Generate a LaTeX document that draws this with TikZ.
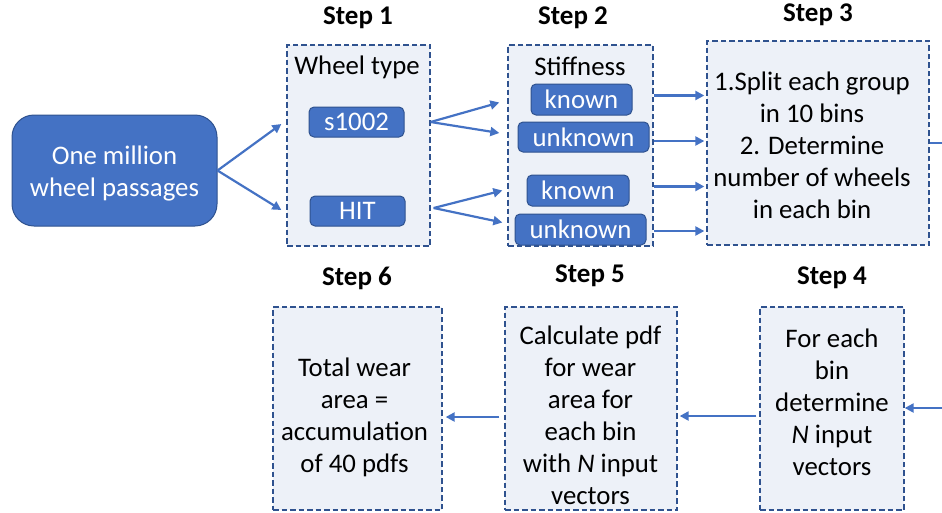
\documentclass[tikz,border=0pt]{standalone}
\usepackage{fontspec}
\setmainfont{Carlito}
\usepackage{tikz}
\usetikzlibrary{arrows.meta,positioning,calc}
\definecolor{wpblue}{RGB}{68,114,196}
\definecolor{wpdark}{RGB}{47,82,143}
\definecolor{wpbox}{RGB}{237,241,248}
\tikzstyle{arrow} = [line width=2.2pt,-{Triangle[length=9pt,width=9pt]},color=wpblue]
\tikzstyle{link} = [line width=2.2pt,color=wpblue]
\tikzstyle{stepbox} = [rectangle, draw=wpdark, dash pattern=on 5.5pt off 3pt, line width=1.3pt, fill=wpbox, inner sep=0pt]
\tikzstyle{tagnode} = [rectangle, rounded corners=5pt, draw=wpdark, line width=1pt, fill=wpblue, text=white, inner sep=0pt, text centered]
\tikzstyle{steptitle} = [font=\fontsize{27}{32}\selectfont\bfseries]

\begin{document}
\begin{tikzpicture}[x=1pt, y=-1pt, font=\fontsize{26.8}{32}\selectfont]
\useasboundingbox (0,0) rectangle (942,512);

% Input
\node[tagnode, rounded corners=22pt, minimum width=205pt, minimum height=111pt] (passages) at (114.5,170.5) {};
\node[align=center, text=white] (passagestext) at (114.5,173.5) {One million\\wheel passages};

% Step boxes, top row
\node[stepbox, minimum width=143pt, minimum height=201pt] (box1) at (358.5,145.5) {};
\node[stepbox, minimum width=145pt, minimum height=201pt] (box2) at (580.5,145.5) {};
\node[stepbox, minimum width=222pt, minimum height=204pt] (box3) at (818,143) {};

% Step boxes, bottom row
\node[stepbox, minimum width=144pt, minimum height=203pt] (box4) at (832,408.5) {};
\node[stepbox, minimum width=172pt, minimum height=203pt] (box5) at (591,408.5) {};
\node[stepbox, minimum width=169pt, minimum height=203pt] (box6) at (357.5,408.5) {};

% Titles
\node[steptitle] (title1) at (358,18) {Step 1};
\node[steptitle] (title2) at (573,18) {Step 2};
\node[steptitle] (title3) at (818,15) {Step 3};
\node[steptitle] (title4) at (832,278) {Step 4};
\node[steptitle] (title5) at (590,276) {Step 5};
\node[steptitle] (title6) at (357,278) {Step 6};

% Step 1: wheel type
\node (wheeltype) at (357,67) {Wheel type};
\node[tagnode, minimum width=95pt, minimum height=30pt] (s1002) at (356.5,122) {s1002};
\node[tagnode, minimum width=95pt, minimum height=30pt] (hit) at (357.5,211) {HIT};

% Step 2: stiffness
\node (stiffness) at (580,66) {Stiffness};
\node[tagnode, minimum width=101pt, minimum height=31pt] (known1) at (581.5,99.5) {known};
\node[tagnode, minimum width=131pt, minimum height=30pt] (unknown1) at (583.5,137) {unknown};
\node[tagnode, minimum width=102pt, minimum height=31pt] (known2) at (578,190.5) {known};
\node[tagnode, minimum width=131pt, minimum height=31pt] (unknown2) at (580.5,229.5) {unknown};

% Step texts
\node[align=center] (text3) at (812,145) {1.Split each group\\in 10 bins\\2. Determine\\number of wheels\\in each bin};
\node[align=center] (text4) at (832,402) {For each\\bin\\determine\\\textit{N} input\\vectors};
\node[align=center] (text5) at (590.5,415) {Calculate pdf\\for wear\\area for\\each bin\\with \textit{N} input\\vectors};
\node[align=center] (text6) at (354.5,417) {Total wear\\area =\\accumulation\\of 40 pdfs};

% Edge coordinates
\coordinate (outR) at (942,143);
\coordinate (inR) at (942,408);

% Arrows
\draw[arrow] (passages.east) -- ($(box1.west |- s1002)+(-5,2)$);
\draw[arrow] (passages.east) -- ($(box1.west |- hit)+(-5,-1)$);
\draw[arrow] (box1.east |- s1002) -- ($(box2.west |- known1)+(-8,3)$);
\draw[arrow] (box1.east |- s1002) -- ($(box2.west |- unknown1)+(-8,-4)$);
\draw[arrow] ($(box1.east |- hit)+(3,-3)$) -- ($(box2.west |- known2)+(-5,0)$);
\draw[arrow] ($(box1.east |- hit)+(3,-3)$) -- ($(box2.west |- unknown2)+(-5,-7)$);
\draw[arrow, shorten >=2pt] ($(box2.east |- known1)+(0,-4)$) -- ($(box3.west |- known1)+(0,-4)$);
\draw[arrow, shorten >=2pt] ($(box2.east |- unknown1)+(0,4)$) -- ($(box3.west |- unknown1)+(0,4)$);
\draw[arrow, shorten >=2pt] ($(box2.east |- known2)+(0,-4)$) -- ($(box3.west |- known2)+(0,-4)$);
\draw[arrow, shorten >=2pt] ($(box2.east |- unknown2)+(0,1.5)$) -- ($(box3.west |- unknown2)+(0,1.5)$);
\draw[link] (box3.east |- outR) -- (outR);
\draw[arrow] (inR) -- (box4.east |- inR);
\draw[arrow, shorten <=3pt, shorten >=2pt] ($(box4.west)+(0,7.5)$) -- ($(box5.east)+(0,7.5)$);
\draw[arrow, shorten <=5pt, shorten >=3pt] ($(box5.west)+(0,8.5)$) -- ($(box6.east)+(0,8.5)$);
\end{tikzpicture}
\end{document}
